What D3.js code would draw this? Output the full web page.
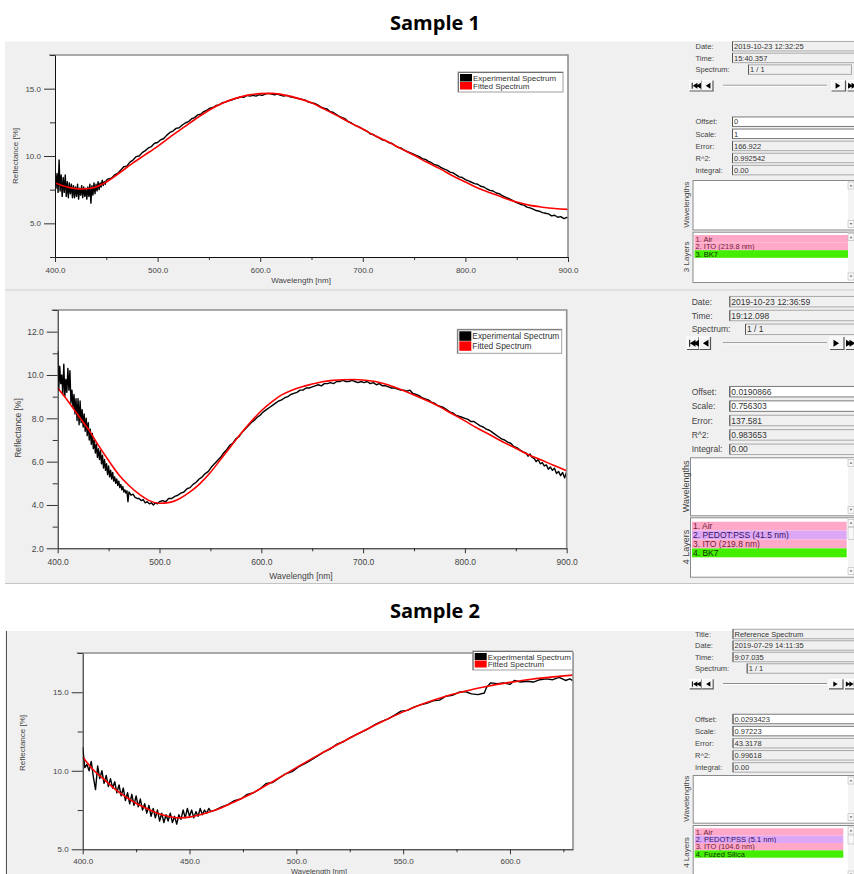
<!DOCTYPE html>
<html>
<head>
<meta charset="utf-8">
<script src="https://cdn.jsdelivr.net/npm/d3@7"></script>
<style>
  body { margin: 0; background: #fff; }
  svg { display: block; font-family: "Liberation Sans", Arial, sans-serif; }
</style>
</head>
<body>
<svg id="chart" width="854" height="874"></svg>
<script>
// ---- data ----
const titles = ["Sample 1", "Sample 2"];
const legendLabels = ["Experimental Spectrum", "Fitted Spectrum"];
const axisTitles = ["Wavelength [nm]", "Reflectance [%]"];

// sample 1, first measurement (ITO on BK7)
const exp1 = [[400,9.1],[401,7.6],[402,8.7],[403,7.3],[404,9.7],[405,7.4],[406,8.6],[407,7.0],[408,8.4],[409,7.3],
  [410,8.6],[411,7.0],[412,8.1],[413,6.9],[414,8.0],[415,7.2],[416,7.9],[417,6.9],[418,7.8],[419,6.9],
  [420,7.7],[421,7.0],[422,7.9],[423,6.8],[424,7.6],[425,7.1],[426,7.8],[427,6.9],[428,7.7],[429,7.0],
  [430,7.6],[431,6.8],[432,7.7],[433,7.0],[434,7.9],[435,6.5],[436,7.8],[437,7.1],[438,8.0],[439,7.2],
  [440,7.9],[441,7.4],[442,8.1],[443,7.5],[444,8.0],[445,7.7],[446,8.2],[447,7.8],[448,8.1],[449,7.9],[450,8.2],
  [452,8.3],[455,8.35],[458,8.6],[461,8.7],[464,8.95],[467,9.2],[470,9.25],[473,9.55],[476,9.7],[479,9.95],
  [482,10.0],[485,10.25],[488,10.4],[491,10.6],[494,10.7],[497,10.95],[500,11.0],[503,11.2],[506,11.3],[509,11.55],
  [512,11.75],[515,11.85],[518,12.05],[521,12.1],[524,12.3],[527,12.45],[530,12.55],[533,12.75],[536,12.85],[539,13.05],
  [542,13.1],[545,13.3],[548,13.4],[551,13.55],[554,13.6],[557,13.75],[560,13.8],[563,13.95],[566,14.0],[569,14.1],
  [572,14.15],[575,14.25],[578,14.3],[581,14.4],[584,14.35],[587,14.5],[590,14.45],[593,14.5],[596,14.45],[599,14.55],
  [602,14.5],[605,14.6],[608,14.65],[611,14.6],[614,14.55],[617,14.6],[620,14.5],[623,14.45],[626,14.5],[629,14.4],
  [632,14.35],[635,14.3],[638,14.25],[641,14.2],[644,14.15],[647,14.0],[650,13.95],[653,13.9],[656,13.8],[659,13.65],
  [662,13.55],[665,13.5],[668,13.3],[671,13.25],[674,13.1],[677,12.95],[680,12.85],[683,12.75],[686,12.55],[689,12.45],
  [692,12.3],[695,12.2],[698,12.1],[701,11.95],[704,11.85],[707,11.65],[710,11.6],[713,11.45],[716,11.35],[719,11.2],
  [722,11.15],[725,11.0],[728,10.95],[731,10.8],[734,10.65],[737,10.6],[740,10.45],[743,10.35],[746,10.25],[749,10.15],
  [752,10.05],[755,9.95],[758,9.8],[761,9.75],[764,9.6],[767,9.5],[770,9.35],[773,9.3],[776,9.15],[779,9.05],
  [782,8.95],[785,8.8],[788,8.75],[791,8.6],[794,8.45],[797,8.4],[800,8.25],[803,8.15],[806,8.05],[809,7.95],
  [812,7.9],[815,7.75],[818,7.7],[821,7.55],[824,7.45],[827,7.4],[830,7.25],[833,7.2],[836,7.05],[839,6.95],
  [842,6.85],[845,6.75],[848,6.6],[851,6.5],[854,6.4],[857,6.35],[860,6.2],[863,6.15],[866,6.05],[869,5.95],
  [872,5.9],[875,5.8],[878,5.75],[881,5.7],[884,5.55],[887,5.6],[890,5.45],[893,5.5],[896,5.35],[899,5.45],[900,5.4]];
const fit1 = [[400,8.0],[412,7.7],[425,7.55],[435,7.6],[450,8.07],[462,8.7],[475,9.43],[487,10.05],[500,10.72],
  [512,11.4],[525,12.1],[537,12.75],[550,13.4],[562,13.88],[575,14.26],[587,14.5],[600,14.63],[612,14.65],
  [625,14.5],[637,14.28],[650,13.95],[662,13.5],[675,13.0],[687,12.5],[700,12.0],[712,11.5],[725,11.04],
  [737,10.55],[750,10.05],[762,9.55],[775,9.06],[787,8.55],[800,8.07],[812,7.63],[825,7.25],[837,6.9],
  [850,6.58],[862,6.35],[875,6.2],[887,6.1],[900,6.04]];
const xTicks1 = [400, 500, 600, 700, 800, 900];
const xMinor1 = [450, 550, 650, 750, 850];
const yTicks1 = [5, 10, 15];
const yMinor1 = [2.5, 7.5, 12.5, 17.5];
const header1 = [["Date:", "2019-10-23 12:32:25"], ["Time:", "15:40.357"], ["Spectrum:", "1 / 1"]];
const fitInfo1 = [["Offset:", "0"], ["Scale:", "1"], ["Error:", "166.922"], ["R^2:", "0.992542"], ["Integral:", "0.00"]];
const layers1 = ["1. Air", "2. ITO (219.8 nm)", "3. BK7"];

// sample 1, second measurement (PEDOT:PSS on ITO)
const exp2 = [[400,11.1],[401,9.3],[402,10.4],[403,9.6],[404,10.0],[405,9.1],[406,10.5],[407,9.0],[408,9.8],[409,9.2],
  [410,10.3],[411,9.3],[412,10.2],[413,8.7],[414,9.3],[415,8.5],[416,9.1],[417,8.2],[418,8.9],[419,7.9],
  [420,8.9],[421,7.7],[422,8.8],[423,7.8],[424,8.4],[425,7.6],[426,8.2],[427,7.4],[428,8.0],[429,7.2],
  [430,7.8],[431,7.0],[432,7.5],[433,6.8],[434,7.3],[435,6.6],[436,7.0],[437,6.4],[438,6.8],[439,6.2],
  [440,6.6],[441,6.1],[442,6.5],[443,5.9],[444,6.3],[445,5.7],[446,6.1],[447,5.6],[448,5.9],[449,5.4],
  [450,5.8],[451,5.3],[452,5.6],[453,5.2],[454,5.5],[455,5.1],[456,5.3],[457,5.0],[458,5.2],[459,4.9],
  [460,5.1],[461,4.8],[462,4.95],[463,4.7],[464,4.85],[465,4.6],[466,4.7],[467,4.55],[468,4.65],[469,4.15],
  [470,4.6],[472,4.45],[474,4.5],[476,4.35],[478,4.3],[480,4.3],[482,4.2],[484,4.25],[486,4.1],[488,4.15],
  [490,4.05],[492,4.1],[494,4.0],[496,4.1],[498,4.05],[500,4.15],[503,4.2],[506,4.15],[509,4.3],[512,4.3],
  [515,4.4],[518,4.45],[521,4.55],[524,4.6],[527,4.75],[530,4.8],[533,4.95],[536,5.05],[539,5.2],[542,5.3],
  [545,5.45],[548,5.55],[551,5.75],[554,5.9],[557,6.05],[560,6.2],[563,6.4],[566,6.55],[569,6.75],[572,6.85],
  [575,7.05],[578,7.15],[581,7.35],[584,7.5],[587,7.65],[590,7.8],[593,7.9],[596,8.05],[599,8.15],[602,8.3],
  [605,8.4],[608,8.5],[611,8.6],[614,8.7],[617,8.8],[620,8.85],[623,8.95],[626,9.0],[629,9.1],[632,9.15],
  [635,9.2],[638,9.3],[641,9.3],[644,9.4],[647,9.4],[650,9.45],[653,9.5],[656,9.55],[659,9.5],[662,9.6],
  [665,9.6],[668,9.65],[671,9.6],[674,9.7],[677,9.7],[680,9.75],[683,9.7],[686,9.7],[689,9.75],[692,9.7],
  [695,9.65],[698,9.7],[701,9.65],[704,9.7],[707,9.6],[710,9.65],[713,9.55],[716,9.6],[719,9.5],[722,9.5],
  [725,9.45],[728,9.4],[731,9.4],[734,9.35],[737,9.3],[740,9.3],[743,9.25],[746,9.3],[749,9.15],[752,9.1],
  [755,9.05],[758,8.95],[761,8.9],[764,8.85],[767,8.75],[770,8.7],[773,8.6],[776,8.55],[779,8.5],[782,8.4],
  [785,8.3],[788,8.25],[791,8.15],[794,8.1],[797,8.05],[800,8.0],[803,7.95],[806,7.85],[809,7.85],[812,7.75],
  [815,7.65],[818,7.6],[821,7.5],[824,7.45],[827,7.35],[830,7.25],[833,7.15],[836,7.05],[839,7.0],[842,6.9],
  [845,6.85],[848,6.7],[851,6.65],[854,6.55],[857,6.45],[860,6.4],[862,6.25],[864,6.35],[866,6.2],[868,6.15],
  [870,6.0],[872,6.1],[874,5.9],[876,5.95],[878,5.8],[880,5.85],[882,5.65],[884,5.75],[886,5.6],[888,5.7],
  [890,5.45],[892,5.55],[894,5.35],[896,5.5],[898,5.25],[900,5.55]];
const fit2 = [[400,9.4],[410,8.8],[420,8.15],[430,7.5],[440,6.75],[450,6.05],[460,5.4],[470,4.9],[480,4.5],
  [490,4.2],[500,4.08],[510,4.12],[520,4.3],[530,4.6],[540,5.0],[550,5.5],[560,6.1],[570,6.7],[580,7.3],
  [590,7.85],[600,8.35],[610,8.75],[620,9.08],[630,9.3],[640,9.46],[650,9.58],[660,9.69],[670,9.75],[680,9.78],
  [690,9.79],[700,9.77],[712,9.7],[725,9.54],[737,9.33],[750,9.08],[762,8.83],[775,8.54],[787,8.22],[800,7.88],
  [812,7.55],[825,7.23],[837,6.92],[850,6.62],[862,6.33],[875,6.08],[887,5.83],[900,5.58]];
const xTicks2 = [400, 500, 600, 700, 800, 900];
const xMinor2 = [450, 550, 650, 750, 850];
const yTicks2 = [2, 4, 6, 8, 10, 12];
const yMinor2 = [3, 5, 7, 9, 11, 13];
const header2 = [["Date:", "2019-10-23 12:36:59"], ["Time:", "19:12.098"], ["Spectrum:", "1 / 1"]];
const fitInfo2 = [["Offset:", "0.0190866"], ["Scale:", "0.756303"], ["Error:", "137.581"], ["R^2:", "0.983653"], ["Integral:", "0.00"]];
const layers2 = ["1. Air", "2. PEDOT:PSS (41.5 nm)", "3. ITO (219.8 nm)", "4. BK7"];

// sample 2 (PEDOT:PSS / ITO on fused silica)
const exp3 = [[400,11.5],[401,10.2],[402,10.4],[403,10.0],[404,10.6],[405,9.6],[406,8.8],[407,10.3],[408,9.5],[409,10.0],
  [410,9.2],[411,9.7],[412,9.0],[413,9.5],[414,8.9],[415,9.3],[416,8.6],[417,9.1],[418,8.4],[419,8.9],
  [420,8.1],[421,8.6],[422,7.9],[423,8.5],[424,7.8],[425,8.4],[426,7.7],[427,8.2],[428,7.5],[429,7.9],
  [430,7.3],[431,7.8],[432,7.1],[433,7.6],[434,7.0],[435,7.5],[436,6.8],[437,7.3],[438,6.7],[439,7.2],
  [440,6.8],[441,7.3],[442,6.7],[443,7.1],[444,6.6],[445,7.2],[446,6.9],[447,7.5],[448,7.0],[449,7.6],
  [450,7.1],[451,7.5],[452,7.0],[453,7.4],[454,7.1],[455,7.6],[456,7.2],[457,7.5],[458,7.3],[459,7.6],
  [460,7.4],[462,7.5],[465,7.7],[468,7.85],[471,8.1],[474,8.2],[477,8.5],[480,8.6],[483,8.85],[486,9.2],
  [489,9.25],[492,9.55],[495,9.8],[498,9.95],[501,10.25],[504,10.45],[507,10.7],[510,10.95],[513,11.2],[516,11.4],
  [519,11.7],[522,11.85],[525,12.1],[528,12.3],[531,12.5],[534,12.7],[537,12.95],[540,13.15],[543,13.3],[546,13.55],
  [549,13.8],[552,13.85],[555,14.05],[558,14.2],[561,14.3],[564,14.45],[567,14.5],[570,14.75],[573,14.8],[576,15.0],
  [579,15.05],[582,14.9],[585,14.85],[588,14.95],[589,15.3],[591,15.6],[594,15.55],[597,15.6],[600,15.5],[602,15.75],
  [605,15.65],[608,15.7],[611,15.65],[614,15.8],[617,15.85],[620,15.8],[623,15.95],[626,15.75],[628,15.85],[630,15.7]];
const fit3 = [[400,10.88],[405,10.05],[410,9.45],[415,8.85],[420,8.35],[425,7.93],[430,7.6],[435,7.3],[440,7.1],
  [445,7.0],[450,7.05],[455,7.2],[460,7.4],[465,7.65],[470,7.96],[480,8.62],[490,9.4],[500,10.2],[510,10.98],
  [520,11.72],[530,12.44],[540,13.12],[550,13.75],[560,14.3],[570,14.75],[580,15.1],[590,15.4],[600,15.63],
  [610,15.83],[620,15.98],[630,16.1]];
const xTicks3 = [400, 450, 500, 550, 600];
const xMinor3 = [425, 475, 525, 575, 625];
const yTicks3 = [5, 10, 15];
const yMinor3 = [7.5, 12.5, 17.5];
const header3 = [["Title:", "Reference Spectrum"], ["Date:", "2019-07-29 14:11:35"], ["Time:", "9:07.035"], ["Spectrum:", "1 / 1"]];
const fitInfo3 = [["Offset:", "0.0293423"], ["Scale:", "0.97223"], ["Error:", "43.3178"], ["R^2:", "0.99618"], ["Integral:", "0.00"]];
const layers3 = ["1. Air", "2. PEDOT:PSS (5.1 nm)", "3. ITO (104.6 nm)", "4. Fuzed Silica"];

// ---- drawing ----
const svg = d3.select('#chart');
const BG = '#f0f0f0';

function layerColor(name, i, n) {
  if (i === n - 1) return { fill: '#44ee00', text: '#123000' };
  if (/PEDOT/.test(name)) return { fill: '#dca8f6', text: '#3a1060' };
  return { fill: '#ffa8c8', text: '#70203c' };
}

function drawPanelBg(y0, y1, leftLine) {
  svg.append('rect').attr('x', 5).attr('y', y0).attr('width', 849).attr('height', y1 - y0).attr('fill', BG);
  svg.append('line').attr('x1', 5).attr('x2', 854).attr('y1', y1 + 0.5).attr('y2', y1 + 0.5)
    .attr('stroke', '#c4c4c4');
  if (leftLine) {
    svg.append('line').attr('x1', 6.5).attr('x2', 6.5).attr('y1', y0).attr('y2', 874).attr('stroke', '#555');
  }
}

function drawChart(p, exp, fit, xTicks, xMinor, yTicks, yMinor) {
  const x = d3.scaleLinear().domain(p.xDomain).range([p.left, p.right]);
  const y = d3.scaleLinear().domain(p.yDomain).range([p.bottom, p.top]);
  const g = svg.append('g');

  g.append('rect').attr('x', p.left).attr('y', p.top)
    .attr('width', p.right - p.left).attr('height', p.bottom - p.top).attr('fill', '#fff');

  g.append('clipPath').attr('id', 'clip' + p.id).append('rect')
    .attr('x', p.left).attr('y', p.top).attr('width', p.right - p.left).attr('height', p.bottom - p.top);

  const rawLine = d3.line().x(d => x(d[0])).y(d => y(d[1]));
  const smoothLine = d3.line().x(d => x(d[0])).y(d => y(d[1])).curve(d3.curveMonotoneX);

  g.append('path').datum(exp).attr('d', rawLine)
    .attr('fill', 'none').attr('stroke', '#000').attr('stroke-width', 1.4)
    .attr('stroke-linejoin', 'round').attr('clip-path', `url(#clip${p.id})`);
  g.append('path').datum(fit).attr('d', smoothLine)
    .attr('fill', 'none').attr('stroke', '#ff0000').attr('stroke-width', 1.6)
    .attr('clip-path', `url(#clip${p.id})`);

  // gray top/right frame
  g.append('path').attr('d', `M${p.left - 6},${p.top}H${p.right}V${p.bottom}`)
    .attr('fill', 'none').attr('stroke', '#8f8f8f').attr('stroke-width', 1.6);

  const fmt = d3.format('.1f');
  const styleAxis = a => {
    a.attr('font-family', null).attr('font-size', null);
    a.selectAll('line').attr('stroke', '#333');
    a.selectAll('path.domain').attr('stroke', '#111');
    a.selectAll('text').attr('fill', '#444').style('font-size', p.font + 'px');
  };

  g.append('g').attr('transform', `translate(0,${p.bottom})`)
    .call(d3.axisBottom(x).tickValues(xMinor).tickSize(3).tickFormat('').tickSizeOuter(0))
    .call(a => a.select('.domain').remove()).call(styleAxis);
  g.append('g').attr('transform', `translate(0,${p.bottom})`)
    .call(d3.axisBottom(x).tickValues(xTicks).tickSize(5).tickPadding(p.xPad).tickSizeOuter(0).tickFormat(fmt))
    .call(styleAxis);

  g.append('g').attr('transform', `translate(${p.left},0)`)
    .call(d3.axisLeft(y).tickValues(yMinor.filter(v => v <= p.yDomain[1])).tickSize(5).tickFormat('').tickSizeOuter(0))
    .call(a => a.select('.domain').remove()).call(styleAxis);
  g.append('g').attr('transform', `translate(${p.left},0)`)
    .call(d3.axisLeft(y).tickValues(yTicks).tickSize(11).tickPadding(3).tickSizeOuter(0).tickFormat(fmt))
    .call(styleAxis);

  // axis titles
  g.append('text').attr('x', p.xTitle[0]).attr('y', p.xTitle[1]).attr('text-anchor', 'middle')
    .attr('fill', '#444').style('font-size', (p.xTitleFont || p.font) + 'px').text(axisTitles[0]);
  g.append('text').attr('transform', `translate(${p.yTitle[0]},${p.yTitle[1]}) rotate(-90)`)
    .attr('text-anchor', 'middle').attr('dy', '0.35em')
    .attr('fill', '#444').style('font-size', p.font + 'px').text(axisTitles[1]);

  // legend
  const L = p.legend;
  const lg = g.append('g');
  lg.append('rect').attr('x', L.x).attr('y', L.y).attr('width', L.w).attr('height', L.h)
    .attr('fill', '#fff').attr('stroke', '#a0a0a0');
  lg.append('path').attr('d', `M${L.x + 0.5},${L.y + L.h}V${L.y + 0.5}H${L.x + L.w}`)
    .attr('fill', 'none').attr('stroke', '#707070');
  const rowH = (L.h - 4) / 2;
  ['#000', '#ff0000'].forEach((c, i) => {
    lg.append('rect').attr('x', L.x + 2).attr('y', L.y + 2 + i * rowH).attr('width', 12).attr('height', rowH - 0.5)
      .attr('fill', c);
    lg.append('text').attr('x', L.x + 15).attr('y', L.y + 2 + i * rowH + rowH / 2).attr('dy', '0.36em')
      .attr('fill', '#333').style('font-size', L.font + 'px').text(legendLabels[i]);
  });
}

function drawButton(bx, by, bw, bh, kind) {
  const g = svg.append('g');
  g.append('rect').attr('x', bx).attr('y', by).attr('width', bw).attr('height', bh)
    .attr('fill', '#f6f6f6').attr('stroke', '#fff');
  g.append('path').attr('d', `M${bx},${by + bh}H${bx + bw}V${by}`).attr('fill', 'none')
    .attr('stroke', '#555').attr('stroke-width', 1.2);
  const cx = bx + bw / 2, cy = by + bh / 2, s = bh * 0.28;
  const tri = (tx, dir) => dir < 0
    ? `M${tx + s},${cy - s}L${tx - s * 0.6},${cy}L${tx + s},${cy + s}Z`
    : `M${tx - s},${cy - s}L${tx + s * 0.6},${cy}L${tx - s},${cy + s}Z`;
  let d = '';
  if (kind === 'first') d = tri(cx - 1, -1) + tri(cx + 2.5, -1) + `M${cx - 3.8},${cy - s}h1v${2 * s}h-1Z`;
  if (kind === 'prev') d = tri(cx, -1);
  if (kind === 'next') d = tri(cx, 1);
  if (kind === 'last') d = tri(cx - 2.5, 1) + tri(cx + 1, 1) + `M${cx + 2.8},${cy - s}h1v${2 * s}h-1Z`;
  g.append('path').attr('d', d).attr('fill', '#000');
}

function drawField(x0, cy, h, w, value, white, font) {
  svg.append('rect').attr('x', x0 + 0.5).attr('y', cy - h / 2).attr('width', w).attr('height', h)
    .attr('fill', white ? '#fff' : BG).attr('stroke', white ? '#7a7a7a' : '#a8a8a8');
  svg.append('line').attr('x1', x0 + 0.5).attr('x2', x0 + 0.5).attr('y1', cy - h / 2).attr('y2', cy + h / 2)
    .attr('stroke', '#555');
  svg.append('text').attr('x', x0 + 2).attr('y', cy).attr('dy', '0.36em')
    .attr('fill', '#333').style('font-size', font + 'px').text(value);
}

function drawScrollbar(x0, y0, y1, thumb) {
  const w = 6;
  svg.append('rect').attr('x', x0).attr('y', y0 + 1).attr('width', w).attr('height', y1 - y0 - 2).attr('fill', '#f4f4f4');
  [[y0 + 2, -1], [y1 - 9, 1]].forEach(([by, dir]) => {
    svg.append('rect').attr('x', x0).attr('y', by).attr('width', w).attr('height', 7)
      .attr('fill', '#f8f8f8').attr('stroke', '#b8b8b8').attr('stroke-width', 0.6);
    const cy = by + 3.5;
    svg.append('path').attr('d', dir < 0 ? `M${x0 + 1.5},${cy + 1}L${x0 + 3},${cy - 1}L${x0 + 4.5},${cy + 1}Z`
      : `M${x0 + 1.5},${cy - 1}L${x0 + 3},${cy + 1}L${x0 + 4.5},${cy - 1}Z`).attr('fill', '#777');
  });
  if (thumb) {
    svg.append('rect').attr('x', x0).attr('y', y0 + 10).attr('width', w).attr('height', thumb)
      .attr('fill', '#f8f8f8').attr('stroke', '#b8b8b8').attr('stroke-width', 0.6);
  }
}

function drawInfo(c, header, fitInfo, layers) {
  const font = c.font;
  const label = (t, x0, cy) => svg.append('text').attr('x', x0).attr('y', cy).attr('dy', '0.36em')
    .attr('fill', '#444').style('font-size', font + 'px').text(t);

  header.forEach(([k, v], i) => {
    const cy = c.headY + i * c.headStep;
    label(k, c.labelX, cy);
    const spec = k === 'Spectrum:';
    const fx = spec ? c.specX : c.fieldX;
    drawField(fx, cy, c.fieldH, (spec ? c.specR : 858) - fx, v, false, font);
  });

  // navigation row
  const bh = c.btnH, by = c.btnY;
  drawButton(c.boxX - 3, by, 12, bh, 'first');
  drawButton(c.boxX + 9.5, by, 11, bh, 'prev');
  svg.append('line').attr('x1', 723).attr('x2', 827).attr('y1', by + bh / 2 - 0.5).attr('y2', by + bh / 2 - 0.5)
    .attr('stroke', '#888');
  svg.append('line').attr('x1', 723).attr('x2', 827).attr('y1', by + bh / 2 + 0.5).attr('y2', by + bh / 2 + 0.5)
    .attr('stroke', '#fff');
  drawButton(c.nextX, by, 14, bh, 'next');
  drawButton(c.nextX + 16, by, 12, bh, 'last');

  fitInfo.forEach(([k, v], i) => {
    const cy = c.fitY + i * c.fitStep;
    label(k, c.labelX, cy);
    drawField(c.fieldX, cy, c.fieldH, 858 - c.fieldX, v, i < 2, font);
  });

  // wavelengths list
  const [w0, w1] = c.wlBox;
  svg.append('rect').attr('x', c.boxX + 0.5).attr('y', w0 + 0.5).attr('width', 860 - c.boxX).attr('height', w1 - w0)
    .attr('fill', '#fff').attr('stroke', '#8a8a8a');
  drawScrollbar(848, w0, w1, 0);
  svg.append('text').attr('transform', `translate(${c.rotX},${(w0 + w1) / 2}) rotate(-90)`)
    .attr('text-anchor', 'middle').attr('dy', '0.36em').attr('fill', '#444')
    .style('font-size', (font + 0.5) + 'px').text('Wavelengths');

  // layer stack
  const [l0, l1] = c.layBox;
  svg.append('rect').attr('x', c.boxX + 0.5).attr('y', l0 + 0.5).attr('width', 860 - c.boxX).attr('height', l1 - l0)
    .attr('fill', '#fff').attr('stroke', '#8a8a8a');
  layers.forEach((name, i) => {
    const col = layerColor(name, i, layers.length);
    const ry = c.rowY + i * c.rowH;
    svg.append('rect').attr('x', c.boxX + 2).attr('y', ry).attr('width', c.rowR - c.boxX - 2).attr('height', c.rowH)
      .attr('fill', col.fill);
    svg.append('text').attr('x', c.boxX + 3).attr('y', ry + c.rowH / 2).attr('dy', '0.36em')
      .attr('fill', col.text).style('font-size', font + 'px').text(name);
  });
  drawScrollbar(848, l0, l1, c.thumb);
  svg.append('text').attr('transform', `translate(${c.rotX},${(l0 + l1) / 2}) rotate(-90)`)
    .attr('text-anchor', 'middle').attr('dy', '0.36em').attr('fill', '#444')
    .style('font-size', (font + 0.5) + 'px').text(layers.length + ' Layers');
}

// titles
svg.append('text').attr('x', 435).attr('y', 30).attr('text-anchor', 'middle')
  .style('font-family', '"Open Sans", sans-serif').style('font-weight', 700).style('font-size', '20px')
  .attr('fill', '#000').text(titles[0]);
svg.append('text').attr('x', 435).attr('y', 618).attr('text-anchor', 'middle')
  .style('font-family', '"Open Sans", sans-serif').style('font-weight', 700).style('font-size', '20px')
  .attr('fill', '#000').text(titles[1]);

// panel backgrounds
drawPanelBg(41.5, 289.5, false);
drawPanelBg(291, 583, false);
drawPanelBg(631, 880, true);

drawChart({ id: 1, left: 55, right: 568, top: 55, bottom: 257, xDomain: [400, 900], yDomain: [2.5, 17.5],
  font: 8, xPad: 5, xTitle: [301, 283], yTitle: [15, 156],
  legend: { x: 458, y: 72, w: 105, h: 20, font: 8 } },
  exp1, fit1, xTicks1, xMinor1, yTicks1, yMinor1);
drawInfo({ font: 7.5, labelX: 695.5, fieldX: 732, specX: 748, specR: 851, fieldH: 9.5,
  headY: 46.2, headStep: 11.7, btnY: 80.5, btnH: 10.5, nextX: 831.5,
  fitY: 121.7, fitStep: 12.1, boxX: 692.5, wlBox: [180, 229.5], layBox: [231.7, 282],
  rowY: 235, rowH: 7.6, rowR: 850.5, rotX: 686.5, thumb: 0 }, header1, fitInfo1, layers1);

drawChart({ id: 2, left: 57.7, right: 566.7, top: 310, bottom: 548.3, xDomain: [400, 900], yDomain: [2, 13],
  font: 8.5, xPad: 6, xTitle: [301, 578.5], yTitle: [18.3, 428],
  legend: { x: 457.3, y: 329.3, w: 104.4, h: 24, font: 8.4 } },
  exp2, fit2, xTicks2, xMinor2, yTicks2, yMinor2);
drawInfo({ font: 8.5, labelX: 691.7, fieldX: 729.3, specX: 745, specR: 858, fieldH: 10.5,
  headY: 301.7, headStep: 13.8, btnY: 337, btnH: 12.5, nextX: 830,
  fitY: 391.7, fitStep: 14.4, boxX: 690, wlBox: [457.3, 515.3], layBox: [517.3, 576.7],
  rowY: 521.7, rowH: 8.9, rowR: 846.7, rotX: 686, thumb: 12 }, header2, fitInfo2, layers2);

drawChart({ id: 3, left: 82.7, right: 573, top: 653, bottom: 849.3, xDomain: [400, 629.5], yDomain: [5, 17.5],
  font: 8, xPad: 4, xTitle: [319, 873.5], xTitleFont: 7.5, yTitle: [21.7, 743],
  legend: { x: 472.7, y: 651, w: 100, h: 19, font: 8 } },
  exp3, fit3, xTicks3, xMinor3, yTicks3, yMinor3);
drawInfo({ font: 7.5, labelX: 695, fieldX: 732.5, specX: 746.7, specR: 858, fieldH: 9.5,
  headY: 634, headStep: 11.5, btnY: 679.3, btnH: 9.5, nextX: 829,
  fitY: 719, fitStep: 12.1, boxX: 692.7, wlBox: [775, 822.7], layBox: [825, 880],
  rowY: 828.3, rowH: 7.35, rowR: 843.3, rotX: 686, thumb: 9 }, header3, fitInfo3, layers3);
</script>
</body>
</html>
